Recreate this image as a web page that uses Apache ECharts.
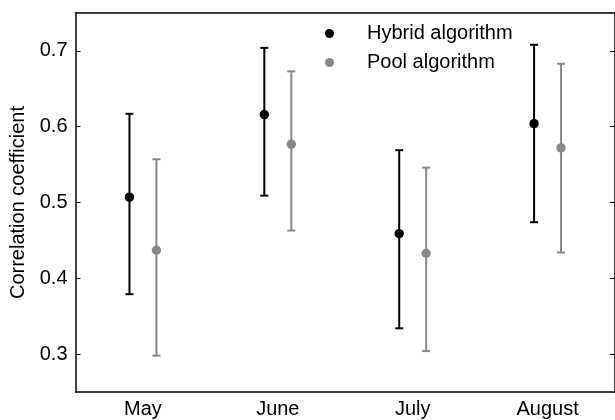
<!DOCTYPE html>
<html><head><meta charset="utf-8">
<script src="https://cdn.jsdelivr.net/npm/echarts@6/dist/echarts.min.js"></script>
<style>html,body{margin:0;padding:0;background:#fff}#c{width:615px;height:420px}</style>
</head><body><div id="c"></div>
<script>
const months = ['May', 'June', 'July', 'August'];
const hybridMean = [0.507, 0.616, 0.459, 0.604];
const hybridLow  = [0.379, 0.509, 0.334, 0.474];
const hybridHigh = [0.617, 0.704, 0.569, 0.708];
const poolMean = [0.437, 0.577, 0.433, 0.572];
const poolLow  = [0.298, 0.463, 0.304, 0.434];
const poolHigh = [0.557, 0.673, 0.546, 0.683];
const yTicks = [0.3, 0.4, 0.5, 0.6, 0.7];
const seriesNames = ['Hybrid algorithm', 'Pool algorithm'];

const FONT = 'Liberation Sans, Arial, Helvetica, sans-serif';
const FS = 20;

function makeData(mean, low, high) {
  return months.map((m, i) => [i, mean[i], low[i], high[i]]);
}

function errRender(shift, color) {
  return function (params, api) {
    const idx = api.value(0);
    const band = api.size([1, 0])[0];
    const p = api.coord([idx, api.value(1)]);
    const lo = api.coord([idx, api.value(2)]);
    const hi = api.coord([idx, api.value(3)]);
    const x = p[0] + shift * band;
    const cap = 4;
    const ls = { stroke: color, lineWidth: 2 };
    return {
      type: 'group',
      children: [
        { type: 'line', shape: { x1: x, y1: hi[1], x2: x, y2: lo[1] }, style: ls },
        { type: 'line', shape: { x1: x - cap, y1: hi[1], x2: x + cap, y2: hi[1] }, style: ls },
        { type: 'line', shape: { x1: x - cap, y1: lo[1], x2: x + cap, y2: lo[1] }, style: ls },
        { type: 'circle', shape: { cx: x, cy: p[1], r: 4.7 }, style: { fill: color } }
      ]
    };
  };
}

const axisLineStyle = { color: '#000', width: 1.5 };
const chart = echarts.init(document.getElementById('c'), null, { renderer: 'canvas' });
chart.setOption({
  animation: false,
  backgroundColor: '#fff',
  textStyle: { fontFamily: FONT },
  grid: { left: 75.5, right: -2.5, top: 13, bottom: 28, containLabel: false },
  legend: {
    orient: 'vertical',
    left: 325,
    top: 23.5,
    padding: 0,
    itemWidth: 9,
    itemHeight: 9,
    itemGap: 9,
    textStyle: { fontSize: FS, color: '#000', fontFamily: FONT, padding: [0, 0, 0, 28] },
    data: [
      { name: seriesNames[0], icon: 'circle' },
      { name: seriesNames[1], icon: 'circle' }
    ]
  },
  xAxis: [
    {
      type: 'category', data: months, position: 'bottom', boundaryGap: true,
      axisLine: { lineStyle: axisLineStyle },
      axisTick: { inside: true, alignWithLabel: true, length: 5, lineStyle: { color: '#000', width: 1 } },
      axisLabel: { fontSize: FS, color: '#000', margin: 7, fontFamily: FONT },
      splitLine: { show: false }
    },
    {
      type: 'category', data: months, position: 'top', boundaryGap: true,
      axisLine: { lineStyle: axisLineStyle },
      axisTick: { inside: true, alignWithLabel: true, length: 5, lineStyle: { color: '#000', width: 1 } },
      axisLabel: { show: false },
      splitLine: { show: false }
    }
  ],
  yAxis: [
    {
      type: 'value', min: 0.25, max: 0.75, position: 'left',
      name: 'Correlation coefficient', nameLocation: 'middle', nameGap: 45, nameRotate: 90,
      nameTextStyle: { fontSize: FS, color: '#000', fontFamily: FONT },
      axisLine: { show: true, lineStyle: axisLineStyle },
      axisTick: { show: true, inside: true, length: 5, customValues: yTicks, lineStyle: { color: '#000', width: 1 } },
      axisLabel: { fontSize: FS, color: '#000', margin: 8, customValues: yTicks, fontFamily: FONT,
        formatter: v => v.toFixed(1) },
      splitLine: { show: false }
    },
    {
      type: 'value', min: 0.25, max: 0.75, position: 'right',
      axisLine: { show: true, lineStyle: axisLineStyle },
      axisTick: { show: true, inside: true, length: 5, customValues: yTicks, lineStyle: { color: '#000', width: 1 } },
      axisLabel: { show: false },
      splitLine: { show: false }
    }
  ],
  series: [
    {
      name: seriesNames[0], type: 'custom', xAxisIndex: 0, yAxisIndex: 0,
      itemStyle: { color: '#000' },
      encode: { x: 0, y: [1, 2, 3] },
      renderItem: errRender(-0.1, '#000'),
      data: makeData(hybridMean, hybridLow, hybridHigh)
    },
    {
      name: seriesNames[1], type: 'custom', xAxisIndex: 0, yAxisIndex: 0,
      itemStyle: { color: '#888888' },
      encode: { x: 0, y: [1, 2, 3] },
      renderItem: errRender(0.1, '#888888'),
      data: makeData(poolMean, poolLow, poolHigh)
    }
  ]
});
</script>
</body></html>
